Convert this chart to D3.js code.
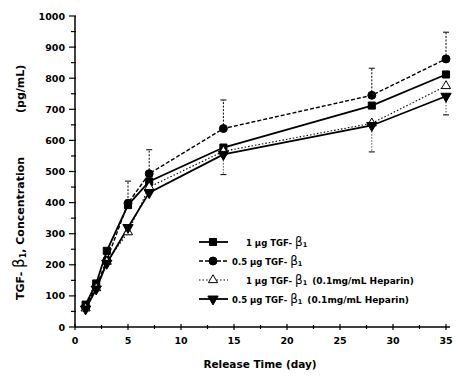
<!DOCTYPE html>
<html><head><meta charset="utf-8">
<script src="https://cdn.jsdelivr.net/npm/d3@7"></script>
<style>body{margin:0;background:#fff}text{font-family:"DejaVu Sans",sans-serif;font-weight:bold;fill:#000}</style>
</head><body><svg id="c" width="456" height="376"></svg>
<script>
const days = [1, 2, 3, 5, 7, 14, 28, 35];
const s1 = [72, 140, 245, 392, 468, 577, 712, 812];     // 1 µg, square
const s2 = [65, 130, 215, 398, 493, 638, 745, 862];     // 0.5 µg, circle
const s3 = [60, 125, 210, 305, 450, 565, 655, 775];     // 1 µg heparin, tri up
const s4 = [58, 122, 205, 320, 432, 555, 648, 742];     // 0.5 µg heparin, tri down
const errUpDays = [5, 7, 14, 28, 35];
const errUpFrom = [392, 493, 638, 745, 862];
const errUpTo = [469, 570, 730, 832, 948];
const errDnDays = [14, 28, 35];
const errDnFrom = [555, 648, 742];
const errDnTo = [490, 563, 682];
const xTicks = [0, 5, 10, 15, 20, 25, 30, 35];
const yTicks = [0, 100, 200, 300, 400, 500, 600, 700, 800, 900, 1000];
const legendLabels = ["1 µg TGF- β", "0.5 µg TGF- β", "1 µg TGF- β", "0.5 µg TGF- β"];
const legendSuffix = ["", "", "(0.1mg/mL Heparin)", "(0.1mg/mL Heparin)"];

const svg = d3.select("#c");
const x = d3.scaleLinear().domain([0, 35]).range([75, 446]);
const y = d3.scaleLinear().domain([0, 1000]).range([327, 16]);

// axes
const g = svg.append("g");
g.append("line").attr("x1", 75).attr("x2", 75).attr("y1", y(0)).attr("y2", y(1000)).attr("stroke", "#000").attr("stroke-width", 1.5);
g.append("line").attr("x1", 75).attr("x2", 450).attr("y1", y(0)).attr("y2", y(0)).attr("stroke", "#000").attr("stroke-width", 1.5);
d3.range(0, 1001, 50).forEach(v => {
  const major = v % 100 === 0;
  g.append("line").attr("x1", major ? 69 : 71).attr("x2", 76).attr("y1", y(v)).attr("y2", y(v)).attr("stroke", "#000").attr("stroke-width", 1.2);
});
d3.range(0, 35.1, 2.5).forEach(v => {
  const major = v % 5 === 0;
  g.append("line").attr("x1", x(v)).attr("x2", x(v)).attr("y1", y(0) - (major ? 3 : 2)).attr("y2", y(0) + (major ? 3 : 2)).attr("stroke", "#000").attr("stroke-width", 1.2);
});
yTicks.forEach(v => g.append("text").attr("x", 65).attr("y", y(v) + 3.5).attr("text-anchor", "end").attr("font-size", 9.5).text(v));
xTicks.forEach(v => g.append("text").attr("x", x(v)).attr("y", 344).attr("text-anchor", "middle").attr("font-size", 9.5).text(v));

svg.append("text").attr("x", 260).attr("y", 368).attr("text-anchor", "middle").attr("font-size", 10.5).text("Release Time (day)");
const yt = svg.append("text").attr("transform", "translate(24,300) rotate(-90)").attr("font-size", 11);
yt.append("tspan").text("TGF- ");
yt.append("tspan").attr("font-size", 15).attr("font-weight", "normal").text("β");
yt.append("tspan").attr("font-size", 8).attr("dy", 2).text("1");
yt.append("tspan").attr("dy", -2).text(", Concentration");
yt.append("tspan").attr("dx", 44).text("(pg/mL)");

// error bars
function errBars(ds, from, to, dash) {
  ds.forEach((d, i) => {
    svg.append("line").attr("x1", x(d)).attr("x2", x(d)).attr("y1", y(from[i])).attr("y2", y(to[i]))
      .attr("stroke", "#000").attr("stroke-width", 1).attr("stroke-dasharray", dash);
    svg.append("line").attr("x1", x(d) - 3).attr("x2", x(d) + 3).attr("y1", y(to[i])).attr("y2", y(to[i])).attr("stroke", "#000").attr("stroke-width", 1);
  });
}
errBars(errUpDays, errUpFrom, errUpTo, "2,1.5");
errBars(errDnDays, errDnFrom, errDnTo, "1,2");

const line = d3.line().x((d, i) => x(days[i])).y(d => y(d));
const series = [
  {v: s1, dash: null, w: 1.8, sym: d3.symbolSquare, size: 50, fill: "#000", rot: 0},
  {v: s2, dash: "4,2", w: 1.4, sym: d3.symbolCircle, size: 50, fill: "#000", rot: 0},
  {v: s3, dash: "1.5,2", w: 1.1, sym: d3.symbolTriangle, size: 36, fill: "#fff", rot: 0},
  {v: s4, dash: null, w: 1.8, sym: d3.symbolTriangle, size: 46, fill: "#000", rot: 180}
];
series.forEach(s => {
  svg.append("path").attr("d", line(s.v)).attr("fill", "none").attr("stroke", "#000").attr("stroke-width", s.w)
    .attr("stroke-dasharray", s.dash);
});
series.forEach(s => {
  svg.selectAll(null).data(s.v).enter().append("path")
    .attr("d", d3.symbol().type(s.sym).size(s.size))
    .attr("transform", (d, i) => `translate(${x(days[i])},${y(d)}) rotate(${s.rot})`)
    .attr("fill", s.fill).attr("stroke", "#000").attr("stroke-width", 1);
});

// legend
const ly = [242, 261, 280, 299];
const tx = [246, 232, 246, 232];
series.forEach((s, i) => {
  svg.append("line").attr("x1", 199).attr("x2", 228).attr("y1", ly[i]).attr("y2", ly[i]).attr("stroke", "#000")
    .attr("stroke-width", s.w).attr("stroke-dasharray", s.dash);
  svg.append("path").attr("d", d3.symbol().type(s.sym).size(s.size)).attr("transform", `translate(213,${ly[i]}) rotate(${s.rot})`)
    .attr("fill", s.fill).attr("stroke", "#000").attr("stroke-width", 1);
  const t = svg.append("text").attr("x", tx[i]).attr("y", ly[i] + 3.5).attr("font-size", 8.5);
  t.append("tspan").text(legendLabels[i].replace("β", ""));
  t.append("tspan").attr("font-size", 12).attr("font-weight", "normal").text("β");
  t.append("tspan").attr("font-size", 6.5).attr("dy", 1.5).text("1");
  if (legendSuffix[i]) t.append("tspan").attr("dy", -1.5).attr("dx", 5).attr("font-size", 9).text(legendSuffix[i]);
});
</script></body></html>
